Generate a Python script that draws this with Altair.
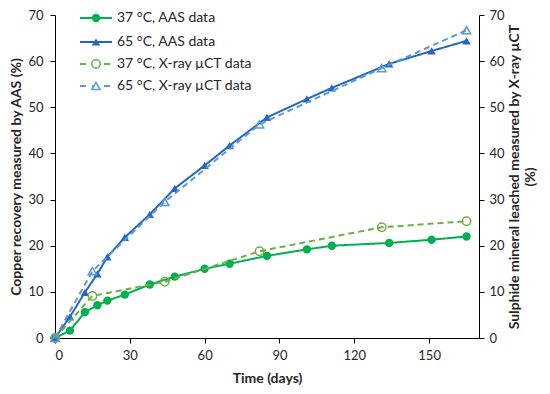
import altair as alt
import pandas as pd

# ---- data ----
aas_days = [0, 6, 12, 17, 21, 28, 38, 48, 60, 70, 85, 101, 111, 134, 151, 165]
aas_37 = [0, 1.6, 5.6, 7.1, 8.1, 9.4, 11.6, 13.3, 15.0, 16.1, 17.8, 19.2, 20.0, 20.6, 21.3, 22.0]
aas_65 = [0, 4.6, 9.9, 13.9, 17.6, 21.8, 26.8, 32.4, 37.4, 41.7, 47.8, 51.8, 54.2, 59.4, 62.2, 64.4]
xct_days = [0, 15, 44, 82, 131, 165]
xct_37 = [0, 9.1, 12.2, 18.8, 24.0, 25.3]
xct_65 = [0, 14.5, 29.5, 46.3, 58.5, 66.7]

labels = ["37 °C, AAS data", "65 °C, AAS data", "37 °C, X-ray µCT data", "65 °C, X-ray µCT data"]
colors = ["#00B050", "#2566C4", "#70AD47", "#5B9BD5"]

FONT = "Lato"

aas = pd.DataFrame({"day": aas_days, "t37": aas_37, "t65": aas_65})
xct = pd.DataFrame({"day": xct_days, "t37": xct_37, "t65": xct_65})

xs = alt.X("day:Q", scale=alt.Scale(domain=[0, 170], nice=False),
           axis=alt.Axis(values=[0, 30, 60, 90, 120, 150], title="Time (days)",
                         labelPadding=6, titlePadding=9))

yleft = dict(scale=alt.Scale(domain=[0, 70], nice=False),
             axis=alt.Axis(values=list(range(0, 71, 10)), title="Copper recovery measured by AAS (%)",
                           labelPadding=7, titlePadding=4))
yright = dict(scale=alt.Scale(domain=[0, 70], nice=False),
              axis=alt.Axis(values=list(range(0, 71, 10)), orient="right",
                            title=["Sulphide mineral leached measured by X-ray µCT", "(%)"],
                            titleAngle=270, titleBaseline="bottom", labelPadding=5, titlePadding=1))

def series(df, col, color, shape, filled, dashed, yargs):
    line = alt.Chart(df).mark_line(color=color, strokeWidth=2,
                                   strokeDash=[6, 4] if dashed else [1, 0]).encode(
        x=xs, y=alt.Y(f"{col}:Q", **yargs))
    pt = alt.Chart(df).mark_point(shape=shape, filled=filled, color=color, size=70,
                                  opacity=1, strokeWidth=1.5).encode(
        x=xs, y=alt.Y(f"{col}:Q", **yargs))
    return [line, pt]

left = alt.layer(
    *series(aas, "t37", colors[0], "circle", True, False, yleft),
    *series(aas, "t65", colors[1], "triangle-up", True, False, yleft),
)
right = alt.layer(
    *series(xct, "t37", colors[2], "circle", False, True, yright),
    *series(xct, "t65", colors[3], "triangle-up", False, True, yright),
)

# ---- manual legend (top-left inside the plot) ----
one = pd.DataFrame({"a": [0]})
leg_rows = [3, 27, 49, 71]
leg_shapes = ["circle", "triangle-up", "circle", "triangle-up"]
leg_filled = [True, True, False, False]
leg_dashed = [False, False, True, True]
legend_layers = []
for lab, col, yy, shp, fil, dsh in zip(labels, colors, leg_rows, leg_shapes, leg_filled, leg_dashed):
    legend_layers.append(alt.Chart(one).mark_rule(color=col, strokeWidth=2,
                                                  strokeDash=[6, 6] if dsh else [1, 0]).encode(
        x=alt.value(25), x2=alt.value(57), y=alt.value(yy)))
    legend_layers.append(alt.Chart(one).mark_point(shape=shp, filled=fil, color=col, size=70,
                                                   opacity=1, strokeWidth=1.5,
                                                   fill="white" if not fil else col).encode(
        x=alt.value(41), y=alt.value(yy)))
    legend_layers.append(alt.Chart(one).mark_text(align="left", baseline="middle", font=FONT,
                                                  fontSize=14, color="#262626").encode(
        x=alt.value(62), y=alt.value(yy), text=alt.value(lab)))

chart = alt.layer(left, right, *legend_layers).resolve_scale(y="independent").properties(
    width=424, height=323,
    autosize=alt.AutoSizeParams(type="none"),
    padding={"left": 47, "top": 7, "right": 63, "bottom": 49},
).configure_view(stroke=None).configure_axis(
    grid=False, domainColor="#000000", tickColor="#000000", domainWidth=1, tickSize=5,
    labelFont=FONT, labelFontSize=13, labelColor="#262626",
    titleFont=FONT, titleFontSize=14, titleFontWeight="bold", titleColor="#262626",
)

chart.save("out.html", embed_options={"renderer": "svg", "actions": False})
